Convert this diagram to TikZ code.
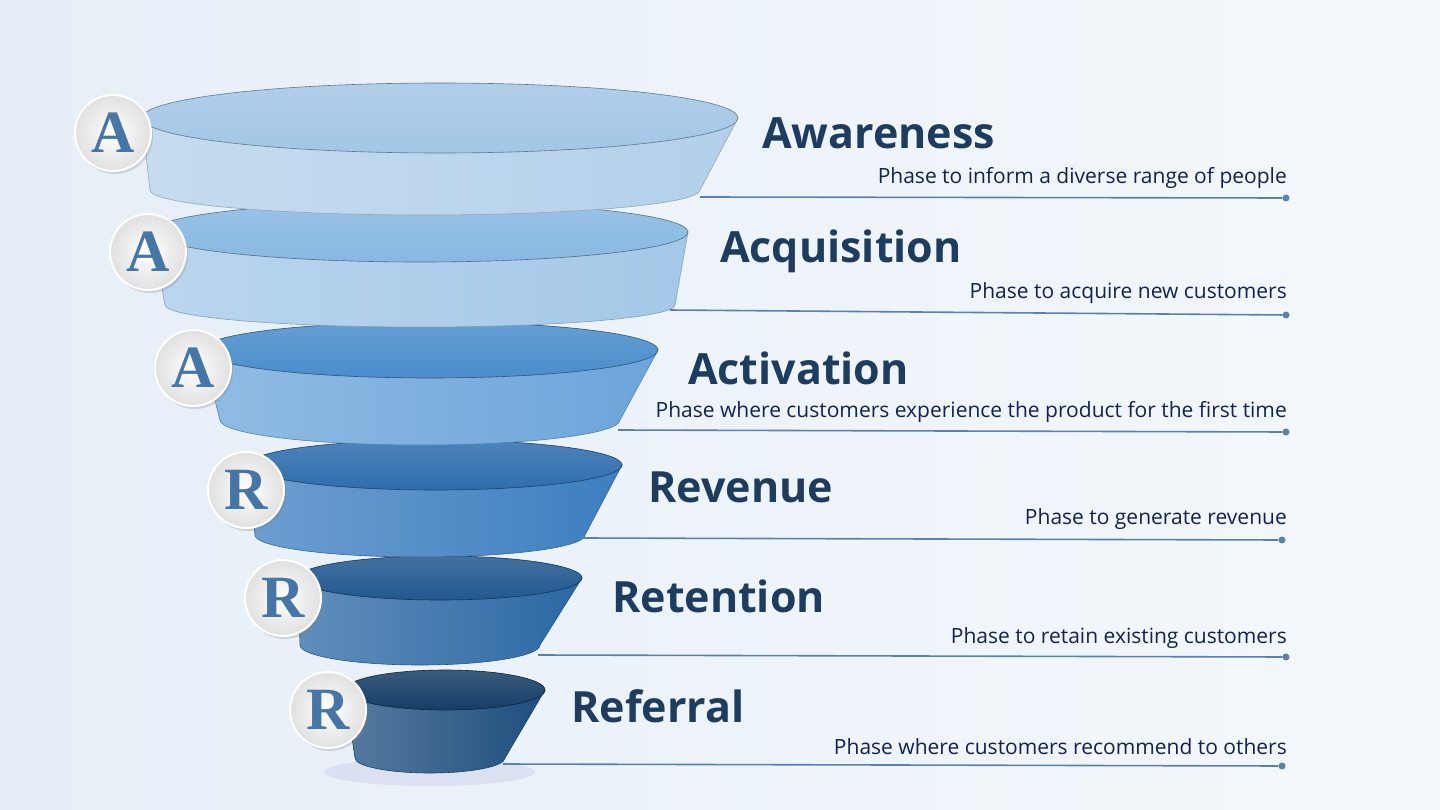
\documentclass[tikz,border=0pt]{standalone}
\usepackage{fontspec}
\setmainfont{Open Sans}
\newfontfamily\badgefont{Liberation Serif}
\usetikzlibrary{shadows}
\definecolor{navy}{HTML}{1E3D5E}
\definecolor{desc}{HTML}{14224F}
\definecolor{linec}{HTML}{5A82A8}
\definecolor{badgec}{HTML}{4676A6}
\definecolor{bg1}{HTML}{E6EEF7}
\definecolor{bg2}{HTML}{F4F8FC}
\tikzset{
  title/.style={anchor=west,font=\fontsize{43}{45}\selectfont\bfseries,text=navy,inner sep=0pt},
  dsc/.style={anchor=east,font=\fontsize{21}{23}\selectfont,text=desc,inner sep=0pt},
  conn/.style={draw=linec,line width=1.6pt},
  dot/.style={circle,fill=linec,inner sep=0pt,minimum size=7pt},
  badge/.style={circle,minimum size=76pt,inner sep=0pt,draw=white,line width=2pt,
     inner color=white,outer color=black!12,drop shadow={opacity=0.25,shadow xshift=2pt,shadow yshift=-3pt},
     font=\badgefont\fontsize{60}{60}\selectfont\bfseries,text=badgec},
}
\newcommand{\funlayer}[9]{%
  \shade[left color=#9b!75!white,right color=#9b,draw=#9b!80!black,line width=0.6pt]
    ({#1-#3},-#2) -- ({#5-#7},-#6) arc[start angle=180,end angle=360,x radius=#7,y radius=#8] -- ({#1+#3},-#2) -- cycle;
  \shade[top color=#9t!85!white,bottom color=#9t,draw=#9t!60!black,line width=0.6pt]
    (#1,-#2) ellipse[x radius=#3,y radius=#4];
}
\definecolor{c1b}{HTML}{B3D0EA}\definecolor{c1t}{HTML}{A3C6E6}
\definecolor{c2b}{HTML}{A4C8E8}\definecolor{c2t}{HTML}{88B8E2}
\definecolor{c3b}{HTML}{6CA5DA}\definecolor{c3t}{HTML}{4A8DCB}
\definecolor{c4b}{HTML}{3D7EC0}\definecolor{c4t}{HTML}{2F6DAE}
\definecolor{c5b}{HTML}{2C68A4}\definecolor{c5t}{HTML}{22588F}
\definecolor{c6b}{HTML}{1F4E7E}\definecolor{c6t}{HTML}{163E66}
\begin{document}
\begin{tikzpicture}[x=1pt,y=1pt]
\useasboundingbox (0,0) rectangle (1440,-810);
\shade[left color=bg1,right color=bg2] (0,0) rectangle (1440,-810);
\fill[black!40!blue!40!white,opacity=0.18] (430,-772) ellipse[x radius=105,y radius=14];
\funlayer{445}{690}{100}{20}{430}{758}{75}{15}{c6}
\funlayer{440}{578}{142}{22}{420}{645}{120}{20}{c5}
\funlayer{435}{465}{187}{25}{420}{535}{165}{22}{c4}
\funlayer{430}{350}{228}{28}{420}{420}{200}{25}{c3}
\funlayer{420}{232}{268}{30}{420}{305}{255}{22}{c2}
\funlayer{440}{118}{298}{35}{425}{190}{275}{25}{c1}
\node[badge] (b1) at (113,-133) {A};
\node[badge] (b2) at (148,-252) {A};
\node[badge] (b3) at (193,-368) {A};
\node[badge] (b4) at (246,-490) {R};
\node[badge] (b5) at (283,-598) {R};
\node[badge] (b6) at (328,-710) {R};
\node[title] (t1) at (762,-133) {Awareness};
\node[title] (t2) at (720,-251) {Acquisition};
\node[title] (t3) at (688,-368) {Activation};
\node[title] (t4) at (648,-487) {Revenue};
\node[title] (t5) at (612,-596) {Retention};
\node[title] (t6) at (571,-706) {Referral};
\node[dsc] (d1) at (1287,-178) {Phase to inform a diverse range of people};
\node[dsc] (d2) at (1287,-293) {Phase to acquire new customers};
\node[dsc] (d3) at (1287,-412) {Phase where customers experience the product for the first time};
\node[dsc] (d4) at (1287,-519) {Phase to generate revenue};
\node[dsc] (d5) at (1287,-638) {Phase to retain existing customers};
\node[dsc] (d6) at (1287,-747) {Phase where customers recommend to others};
\coordinate (s1) at (700,-197); \node[dot] (e1) at (1286,-198) {};
\coordinate (s2) at (670,-310); \node[dot] (e2) at (1286,-315) {};
\coordinate (s3) at (618,-430); \node[dot] (e3) at (1286,-432) {};
\coordinate (s4) at (582,-538); \node[dot] (e4) at (1282,-540) {};
\coordinate (s5) at (538,-655); \node[dot] (e5) at (1286,-657) {};
\coordinate (s6) at (503,-764); \node[dot] (e6) at (1282,-766) {};
\foreach \i in {1,...,6}{\draw[conn] (s\i) -- (e\i);}
\end{tikzpicture}
\end{document}
